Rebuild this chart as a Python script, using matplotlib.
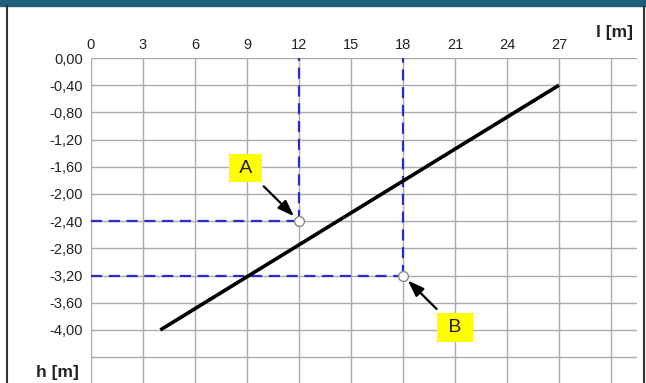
import matplotlib
matplotlib.use("Agg")
import matplotlib.pyplot as plt
from matplotlib.patches import Rectangle
from matplotlib.lines import Line2D

plt.rcParams['font.family'] = ['Liberation Sans', 'DejaVu Sans']

# data
line_l = [4, 27]
line_h = [-4.0, -0.4]
points_name = ["A", "B"]
points_l = [12, 18]
points_h = [-2.40, -3.20]
label_l = [8.9, 21.0]
label_h = [-1.62, -3.96]
x_ticks = [0, 3, 6, 9, 12, 15, 18, 21, 24, 27]
y_ticks = [0.0, -0.4, -0.8, -1.2, -1.6, -2.0, -2.4, -2.8, -3.2, -3.6, -4.0]
y_ticklabels = ["0,00", "-0,40", "-0,80", "-1,20", "-1,60", "-2,00", "-2,40",
                "-2,80", "-3,20", "-3,60", "-4,00"]

W, H = 646, 383
fig = plt.figure(figsize=(W / 100, H / 100), dpi=100)

# frame decorations
fig.patches.append(Rectangle((0, 1 - 6 / H), 1, 6 / H, transform=fig.transFigure,
                             color="#1f5f7a", zorder=0))
fig.lines.append(Line2D([7 / W, 7 / W], [0, 1 - 6 / H], transform=fig.transFigure,
                        color="#333333", lw=1.5))
fig.lines.append(Line2D([644 / W, 644 / W], [0, 1 - 6 / H], transform=fig.transFigure,
                        color="#333333", lw=1.5))

ax = fig.add_axes([91 / W, 0, (637 - 91) / W, (H - 58) / H])
ax.set_xlim(0, 31.5)
ax.set_ylim(-4.78, 0)

for s in ax.spines.values():
    s.set_visible(False)

# grid
for gx in range(0, 31, 3):
    ax.axvline(gx, color="#ababab", lw=1.0, zorder=1)
for i in range(0, 13):
    ax.axhline(-0.4 * i, color="#ababab", lw=1.0, zorder=1)

ax.xaxis.tick_top()
ax.set_xticks(x_ticks)
ax.set_xticklabels([str(v) for v in x_ticks])
ax.set_yticks(y_ticks)
ax.set_yticklabels(y_ticklabels)
ax.tick_params(axis="both", length=0, labelsize=10.5, colors="#222222")
ax.tick_params(axis="x", pad=4)
ax.tick_params(axis="y", pad=6)

# dashed guide lines
for px, py in zip(points_l, points_h):
    ax.plot([0, px], [py, py], color="#2a2ad0", lw=1.6, ls=(0, (5, 3)), zorder=3)
    ax.plot([px, px], [py, 0], color="#2a2ad0", lw=1.6, ls=(0, (5, 3)), zorder=3)

# main line
ax.plot(line_l, line_h, color="black", lw=2.6, solid_capstyle="butt", zorder=4)

# points
ax.scatter(points_l, points_h, s=50, facecolor="white", edgecolor="#888888",
           lw=1.0, zorder=6)

# labels with arrows
for name, px, py, lx, ly in zip(points_name, points_l, points_h, label_l, label_h):
    ax.annotate(" " + name + " ", xy=(px, py), xytext=(lx, ly), fontsize=14, ha="center",
                va="center", color="#222222",
                bbox=dict(boxstyle="square,pad=0.3", fc="#ffff00", ec="none"),
                arrowprops=dict(arrowstyle="-|>,head_length=0.7,head_width=0.25",
                                color="black", lw=1.6, shrinkA=4, shrinkB=5),
                zorder=7)

fig.text(615 / W, 1 - 32 / H, "l [m]", fontsize=12.5, fontweight="bold",
         ha="center", va="center", color="#222222")
fig.text(57 / W, 1 - 372 / H, "h [m]", fontsize=12.5, fontweight="bold",
         ha="center", va="center", color="#222222")

fig.savefig("out.png", dpi=100)
